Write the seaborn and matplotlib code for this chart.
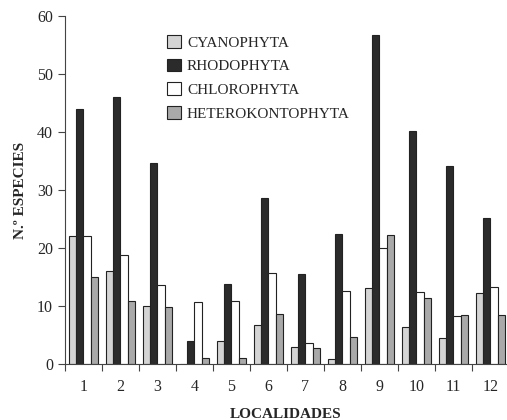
import matplotlib
matplotlib.use("Agg")
import matplotlib.pyplot as plt
import seaborn as sns
import pandas as pd

localidades = ["1", "2", "3", "4", "5", "6", "7", "8", "9", "10", "11", "12"]
cyanophyta = [22, 16, 10, 0, 4, 6.7, 2.9, 0.8, 13.2, 6.4, 4.5, 12.2]
rhodophyta = [44, 46, 34.7, 4, 13.8, 28.7, 15.6, 22.5, 56.8, 40.2, 34.2, 25.1]
chlorophyta = [22, 18.8, 13.6, 10.7, 10.8, 15.7, 3.7, 12.6, 20, 12.5, 8.3, 13.3]
heterokontophyta = [15, 10.9, 9.8, 1, 1, 8.6, 2.8, 4.7, 22.2, 11.4, 8.4, 8.4]

series = {
    "CYANOPHYTA": cyanophyta,
    "RHODOPHYTA": rhodophyta,
    "CHLOROPHYTA": chlorophyta,
    "HETEROKONTOPHYTA": heterokontophyta,
}
rows = []
for name, vals in series.items():
    for loc, v in zip(localidades, vals):
        rows.append({"loc": loc, "grupo": name, "n": v})
df = pd.DataFrame(rows)

sns.set_style("ticks")
plt.rcParams["font.family"] = ["Liberation Serif", "DejaVu Serif"]

palette = {"CYANOPHYTA": "#d4d4d4", "RHODOPHYTA": "#2b2b2b",
           "CHLOROPHYTA": "#ffffff", "HETEROKONTOPHYTA": "#a9a9a9"}

fig = plt.figure(figsize=(5.07, 4.2), dpi=100)
ax = fig.add_axes([0.128, 0.133, 0.872, 0.829])
sns.barplot(data=df, x="loc", y="n", hue="grupo", palette=palette,
            order=localidades, hue_order=list(series.keys()),
            width=0.8, edgecolor="#222222", linewidth=0.8, ax=ax,
            errorbar=None)

ax.set_ylim(0, 60)
ax.set_yticks(range(0, 61, 10))
ax.set_xlim(-0.5, 11.45)
ax.set_xticks([i - 0.5 for i in range(12)], minor=False)
ax.set_xticklabels([])
ax.set_xticks(range(12), minor=True)
ax.set_xticklabels(localidades, minor=True)
ax.tick_params(axis="x", which="minor", length=0, pad=11, labelsize=11.5)
ax.tick_params(axis="x", which="major", length=5, direction="out", color="#444444")
ax.tick_params(axis="y", length=5, direction="out", labelsize=11.5, color="#444444")
for s in ["top", "right"]:
    ax.spines[s].set_visible(False)
ax.spines["left"].set_color("#444444")
ax.spines["bottom"].set_color("#444444")

ax.set_xlabel("LOCALIDADES", fontweight="bold", fontsize=11, labelpad=9)
ax.set_ylabel("N.º ESPECIES", fontweight="bold", fontsize=11, labelpad=7)

leg = ax.legend(loc="upper left", bbox_to_anchor=(0.2, 0.985), frameon=False,
                fontsize=11, handlelength=0.9, handleheight=0.9,
                handletextpad=0.4, labelspacing=0.6)
for h in leg.legend_handles:
    h.set_edgecolor("#222222")
    h.set_linewidth(0.8)

fig.savefig("out.png", dpi=100)
